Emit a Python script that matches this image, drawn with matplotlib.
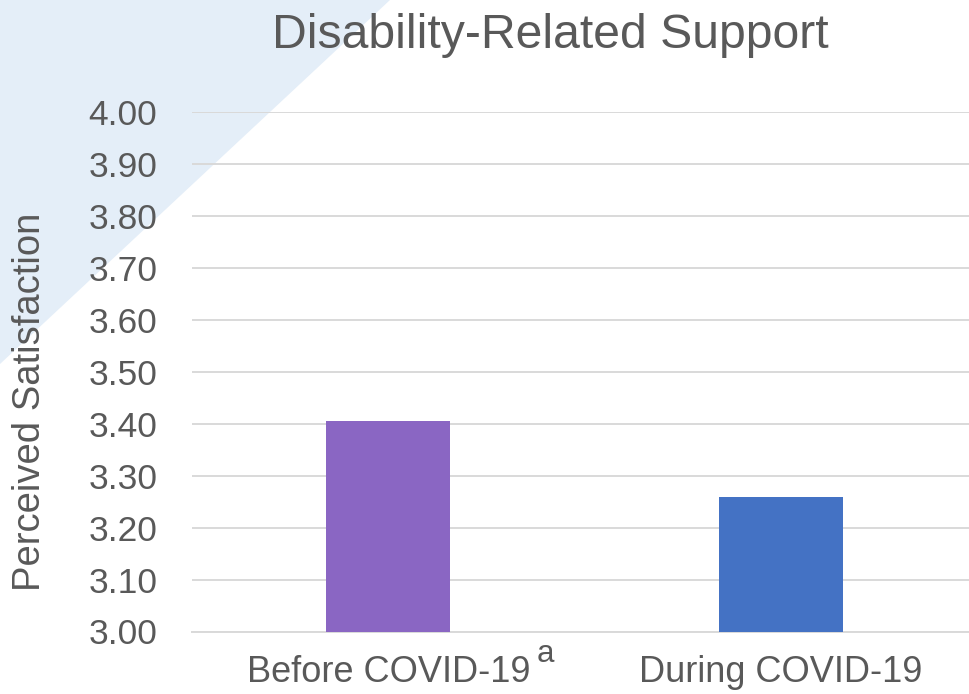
import matplotlib
matplotlib.use("Agg")
import matplotlib.pyplot as plt
from matplotlib.patches import Polygon

# Data
categories = ["Before COVID-19", "During COVID-19"]
values = [3.406, 3.259]
bar_colors = ["#8A66C3", "#4472C4"]
y_ticks = [3.00, 3.10, 3.20, 3.30, 3.40, 3.50, 3.60, 3.70, 3.80, 3.90, 4.00]
title = "Disability-Related Support"
y_label = "Perceived Satisfaction"
footnote_mark = "a"

plt.rcParams["font.family"] = ["Liberation Sans", "DejaVu Sans"]
TEXT = "#595959"
GRID = "#D9D9D9"

W, H = 969, 694
fig = plt.figure(figsize=(W / 100, H / 100), dpi=100)
fig.patch.set_facecolor("white")

# Decorative light-blue corner triangle, behind everything else
tri = Polygon([(0, 1), (390 / W, 1), (0, 1 - 364 / H)], closed=True,
              transform=fig.transFigure, facecolor="#E4EEF8", edgecolor="none",
              zorder=-10)
fig.patches.append(tri)

ax = fig.add_axes([192 / W, (H - 631.5) / H, 785.5 / W, 519.2 / H])
ax.set_facecolor("none")
ax.set_zorder(1)

x = list(range(len(categories)))
ax.bar(x, values, width=0.316, color=bar_colors, zorder=3)

ax.set_xlim(-0.5, len(categories) - 0.5)
ax.set_ylim(3.0, 4.0)
ax.set_yticks(y_ticks)
ax.set_yticklabels([f"{v:.2f}" for v in y_ticks])
ax.set_xticks(x)
ax.set_xticklabels(categories)

ax.yaxis.grid(True, color=GRID, linewidth=1.4, zorder=0)
ax.set_axisbelow(True)
for side in ["top", "right", "left"]:
    ax.spines[side].set_visible(False)
ax.spines["bottom"].set_color(GRID)
ax.spines["bottom"].set_linewidth(1.4)

ax.tick_params(axis="y", length=0, pad=25, labelsize=25.5, labelcolor=TEXT)
ax.tick_params(axis="x", length=0, pad=17, labelsize=26, labelcolor=TEXT)

fig.text(550 / W, 1 - 48 / H, title, ha="center", va="baseline",
         fontsize=34.7, color=TEXT, zorder=2)
fig.text(30 / W, 1 - 402 / H, y_label, rotation=90, ha="center", va="center",
         fontsize=27.5, color=TEXT, zorder=2)

# Superscript footnote mark after the first category label
fig.text(537 / W, (H - 662) / H, footnote_mark, ha="left", va="baseline",
         fontsize=22.5, color=TEXT, zorder=2)

fig.savefig("out.png", dpi=100)
